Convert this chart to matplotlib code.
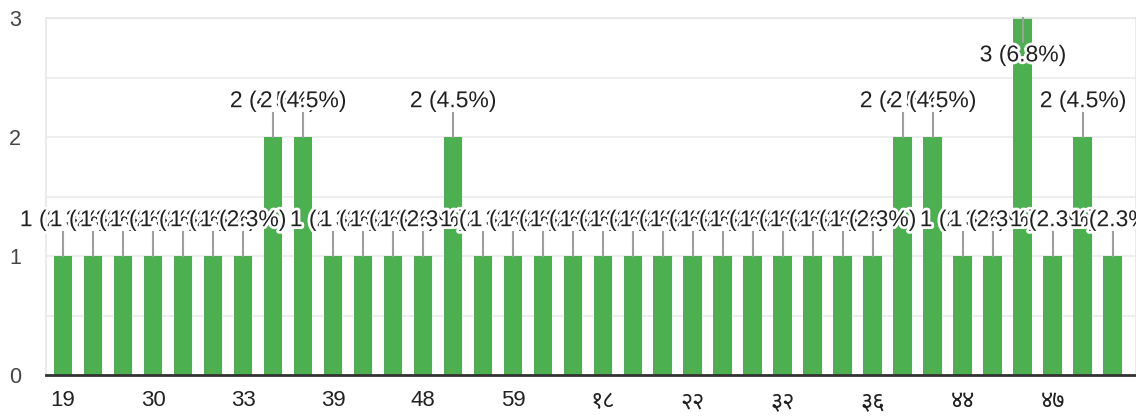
import matplotlib
matplotlib.use("Agg")
import matplotlib.pyplot as plt
import matplotlib.patheffects as pe
from matplotlib import font_manager
from matplotlib.ft2font import FT2Font

categories = ['19', '20', '25', '30', '31', '32', '33', '34', '35', '39', '40', '45',
              '48', '49', '50', '59', '60', '१५', '१८', '१९', '२०', '२२', '२५', '३०',
              '३२', '३३', '३५', '३६', '४०', '४२', '४४', '४५', '४६', '४७', '४८', '५०']
counts = [1, 1, 1, 1, 1, 1, 1, 2, 2, 1, 1, 1,
          1, 2, 1, 1, 1, 1, 1, 1, 1, 1, 1, 1,
          1, 1, 1, 1, 2, 2, 1, 1, 3, 1, 2, 1]
total = sum(counts)

# pick a font that has Devanagari digits, nicer ones first
have = set()
for f in font_manager.fontManager.ttflist:
    try:
        if ord('१') in FT2Font(f.fname).get_charmap():
            have.add(f.name)
    except Exception:
        pass
deva = None
for n in ['Noto Sans Devanagari', 'Hind', 'Mukta', 'Poppins', 'Anek Devanagari', 'Baloo 2']:
    if n in have:
        deva = n
        break
if deva is None and have:
    deva = sorted(have)[0]
fams = ['Liberation Sans', 'DejaVu Sans'] + ([deva] if deva else [])
plt.rcParams['font.family'] = fams

fig = plt.figure(figsize=(11.36, 4.17), dpi=100)
ax = fig.add_axes([46 / 1136, 1 - 375 / 417, 1 - 46 / 1136, (375 - 18) / 417])

x = list(range(len(counts)))
ax.bar(x, counts, width=0.63, color='#4caf50', zorder=2)

ax.set_xlim(-0.567, 35.77)
ax.set_ylim(0, 3)
ax.set_yticks([0, 1, 2, 3])
ax.set_yticks([0.5, 1.5, 2.5], minor=True)
ax.grid(axis='y', which='both', color='#eeeeee', lw=1.5, zorder=0)
ax.tick_params(axis='y', which='both', length=0, pad=18, labelsize=15.5, labelcolor='#444444')
ax.set_xticks(x[::3], categories[::3])
ax.tick_params(axis='x', length=0, pad=11, labelsize=16, labelcolor='#222222')
for t in ax.get_xticklabels():
    if not t.get_text().isascii() and deva:
        t.set_fontfamily([deva, 'DejaVu Sans'])
        t.set_fontsize(17)

for s in ['top', 'left', 'right']:
    ax.spines[s].set_color('#e6e6e6')
    ax.spines[s].set_linewidth(1.2)
ax.spines['bottom'].set_color('#333333')
ax.spines['bottom'].set_linewidth(2)
ax.spines['bottom'].set_zorder(3)

stroke = [pe.withStroke(linewidth=4, foreground='white')]
for i, c in enumerate(counts):
    lab = f'{c} ({c / total * 100:.1f}%)'
    if c >= 3:
        ty, l0, l1 = c - 0.31, c, c - 0.20
    else:
        ty, l0, l1 = c + 0.305, c, c + 0.20
    ax.plot([i, i], [l0, l1], color='#9e9e9e', lw=1.5, zorder=3, clip_on=False)
    ax.text(i, ty, lab, ha='center', va='center', fontsize=16.5, color='#212121',
            zorder=4 + i * 0.01, path_effects=stroke)

fig.savefig('out.png', dpi=100)
